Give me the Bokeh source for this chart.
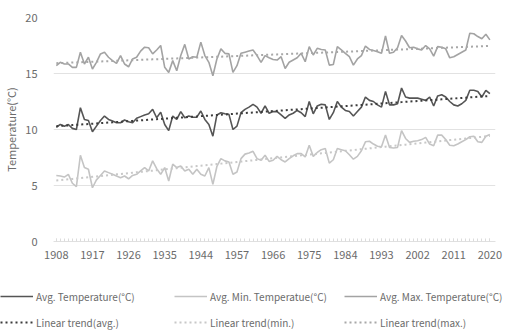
import numpy as np
from bokeh.plotting import figure
from bokeh.models import Range1d, FixedTicker, Legend, LegendItem
from bokeh.embed import file_html
from bokeh.resources import INLINE

# Years (1950-1953 missing in the record)
years = [y for y in range(1908, 2021) if not (1950 <= y <= 1953)]

avg_temp = [10.2, 10.45, 10.3, 10.45, 10.1, 10.0, 11.95, 10.9, 10.8, 9.8,
            10.3, 10.8, 11.2, 10.9, 10.75, 10.6, 10.6, 10.85, 10.7, 10.6,
            11.0, 11.15, 11.3, 11.4, 11.8, 11.05, 11.55, 10.45, 9.9, 11.2,
            10.9, 11.6, 11.05, 11.2, 11.1, 11.1, 11.65, 10.9, 10.45, 9.4,
            11.3, 11.5, 11.4, 11.35, 10.0, 10.3, 11.5, 11.8, 12.0, 12.25,
            12.0, 11.45, 12.1, 11.45, 11.6, 11.6, 11.3, 11.0, 11.3, 11.45,
            11.7, 11.5, 11.15, 12.5, 11.4, 12.1, 12.25, 12.2, 10.9, 11.5,
            12.5, 12.0, 11.7, 11.6, 11.2, 11.6, 12.0, 12.9, 12.6, 12.5,
            12.2, 12.0, 13.4, 12.2, 12.2, 12.3, 13.7, 12.9, 12.8, 12.8,
            12.8, 12.7, 12.6, 12.9, 12.1, 13.0, 13.1, 12.9, 12.5, 12.2,
            12.1, 12.3, 12.6, 13.5, 13.5, 13.4, 12.9, 13.5, 13.2]

min_temp = [5.9, 5.85, 5.75, 6.0, 5.2, 4.9, 7.7, 6.6, 6.45, 4.8,
            5.5, 5.9, 6.3, 6.15, 6.0, 5.85, 5.7, 5.85, 5.6, 5.9,
            6.0, 6.3, 6.6, 6.3, 7.2, 6.5, 6.0, 6.6, 5.4, 6.9,
            6.6, 6.75, 6.3, 6.45, 6.0, 6.45, 6.0, 5.85, 6.6, 5.1,
            6.7, 7.4, 7.2, 7.1, 6.0, 6.2, 7.4, 7.8, 7.9, 8.05,
            7.4, 7.25, 7.7, 7.15, 7.25, 7.6, 7.3, 7.1, 7.4, 7.65,
            7.85, 7.85, 7.55, 8.6, 7.6, 7.95, 8.2, 8.3, 7.0, 7.3,
            8.3, 8.2, 8.1, 7.75, 7.35, 7.6, 8.1, 8.9, 8.95, 8.7,
            8.5, 8.45, 9.5, 8.4, 8.35, 8.4, 9.9, 9.2, 8.85, 8.95,
            9.0, 9.1, 9.3, 8.7, 8.55, 9.5, 9.5, 9.1, 8.6, 8.55,
            8.7, 8.9, 9.1, 9.35, 9.4, 8.9, 8.85, 9.4, 9.55]

max_temp = [15.7, 16.0, 15.85, 15.85, 15.55, 15.55, 16.9, 15.85, 16.45, 15.4,
            16.0, 16.75, 16.9, 16.45, 16.15, 15.9, 16.6, 15.85, 15.6, 16.3,
            16.45, 17.0, 17.35, 17.3, 16.75, 17.1, 17.5, 15.55, 15.1, 16.15,
            15.25, 16.6, 17.6, 16.3, 16.5, 16.45, 17.8, 16.6, 16.0, 14.8,
            16.3, 17.2, 16.8, 16.75, 15.1, 15.7, 16.8, 16.9, 17.0, 17.1,
            16.6, 16.0, 16.6, 16.4, 16.25, 16.2, 16.5, 15.45, 16.0, 16.2,
            16.4, 16.8, 16.05, 17.4, 16.65, 17.25, 17.15, 17.1, 15.75, 15.8,
            17.4, 17.1, 16.8, 16.5, 15.75, 16.3, 16.6, 17.45, 17.15, 17.05,
            16.95, 16.8, 18.35, 16.8, 16.9, 17.3, 18.4, 17.9, 17.3, 17.35,
            17.2, 17.1, 17.5, 17.2, 16.55, 17.4, 17.35, 17.2, 16.4, 16.5,
            16.7, 16.9, 17.1, 18.6, 18.55, 18.3, 18.1, 18.5, 18.0]

y_ticks = [0, 5, 10, 15, 20]
x_label_every = 9

FONT = "Noto Sans CJK KR"
TXT = "#6b6b6b"

x = np.arange(len(years))


def trend(vals):
    k, b = np.polyfit(x, np.array(vals), 1)
    return k * x + b


p = figure(width=508, height=271, output_backend="svg", toolbar_location=None,
           x_range=Range1d(-0.7, 109.4), y_range=Range1d(0, 20),
           min_border_left=44, min_border_right=13, min_border_top=17,
           min_border_bottom=30)
p.outline_line_color = None

p.xgrid.visible = False
p.ygrid.ticker = FixedTicker(ticks=[t for t in y_ticks if t > 0])
p.ygrid.grid_line_color = "#e2e2e2"
p.ygrid.grid_line_width = 1

tick_idx = list(range(0, len(years), x_label_every))
p.xaxis.ticker = FixedTicker(ticks=tick_idx, minor_ticks=list(range(len(years))))
p.xaxis.major_label_overrides = {i: str(years[i]) for i in tick_idx}
p.xaxis.axis_line_color = "#e0e0e0"
p.xaxis.major_tick_line_color = "#dcdcdc"
p.xaxis.minor_tick_line_color = "#dcdcdc"
p.xaxis.major_tick_in = 3
p.xaxis.major_tick_out = 0
p.xaxis.minor_tick_in = 3
p.xaxis.minor_tick_out = 0
p.xaxis.major_label_standoff = 9
p.xaxis.major_label_text_font = FONT
p.xaxis.major_label_text_font_size = "11px"
p.xaxis.major_label_text_color = TXT

p.yaxis.ticker = FixedTicker(ticks=y_ticks)
p.yaxis.axis_line_color = None
p.yaxis.major_tick_line_color = None
p.yaxis.minor_tick_line_color = None
p.yaxis.major_label_standoff = 10
p.yaxis.major_label_text_font = FONT
p.yaxis.major_label_text_font_size = "11px"
p.yaxis.major_label_text_color = TXT
p.yaxis.axis_label = "Temperature(°C)"
p.yaxis.axis_label_text_font = FONT
p.yaxis.axis_label_text_font_style = "normal"
p.yaxis.axis_label_text_font_size = "11px"
p.yaxis.axis_label_text_color = TXT
p.yaxis.axis_label_standoff = 3

C_AVG = "#555555"
C_MIN = "#c4c4c4"
C_MAX = "#a3a3a3"
T_AVG = "#3c3c3c"
T_MIN = "#c8c8c8"
T_MAX = "#a8a8a8"

p.line(x, max_temp, line_color=C_MAX, line_width=1.6)
p.line(x, avg_temp, line_color=C_AVG, line_width=1.6)
p.line(x, min_temp, line_color=C_MIN, line_width=1.6)
p.line(x, trend(max_temp), line_color=T_MAX, line_width=2, line_dash="2 3")
p.line(x, trend(avg_temp), line_color=T_AVG, line_width=2, line_dash="2 3")
p.line(x, trend(min_temp), line_color=T_MIN, line_width=2, line_dash="2 3")

# Legend strip below the chart (separate root, full-width frame)
lgf = figure(width=508, height=65, output_backend="svg", toolbar_location=None,
             x_axis_location=None, y_axis_location=None,
             x_range=Range1d(0, 1), y_range=Range1d(0, 1), min_border=0)
lgf.outline_line_color = None
lgf.xgrid.visible = False
lgf.ygrid.visible = False


def swatch(color, dash):
    # legend-only renderer: its points lie outside the visible range
    return lgf.line([5, 6], [5, 5], line_color=color,
                    line_width=(1.6 if dash == "solid" else 2), line_dash=dash)


cols = [
    ([("Avg. Temperature(°C)", swatch(C_AVG, "solid")),
      ("Linear trend(avg.)", swatch(T_AVG, "2 3"))], 0),
    ([("Avg. Min. Temperatue(°C)", swatch(C_MIN, "solid")),
      ("Linear trend(min.)", swatch(T_MIN, "2 3"))], 174),
    ([("Avg. Max. Temperature(°C)", swatch(C_MAX, "solid")),
      ("Linear trend(max.)", swatch(T_MAX, "2 3"))], 344),
]
for items, lx in cols:
    lg = Legend(items=[LegendItem(label=l, renderers=[r]) for l, r in items],
                location=(lx, 4), orientation="vertical",
                glyph_width=33, glyph_height=20, label_height=20,
                label_standoff=3, spacing=6, padding=0, margin=0,
                border_line_color=None, background_fill_alpha=0,
                label_text_font=FONT, label_text_font_size="10px",
                label_text_color=TXT)
    lgf.add_layout(lg, "center")

open("out.html", "w").write(file_html([p, lgf], INLINE))
